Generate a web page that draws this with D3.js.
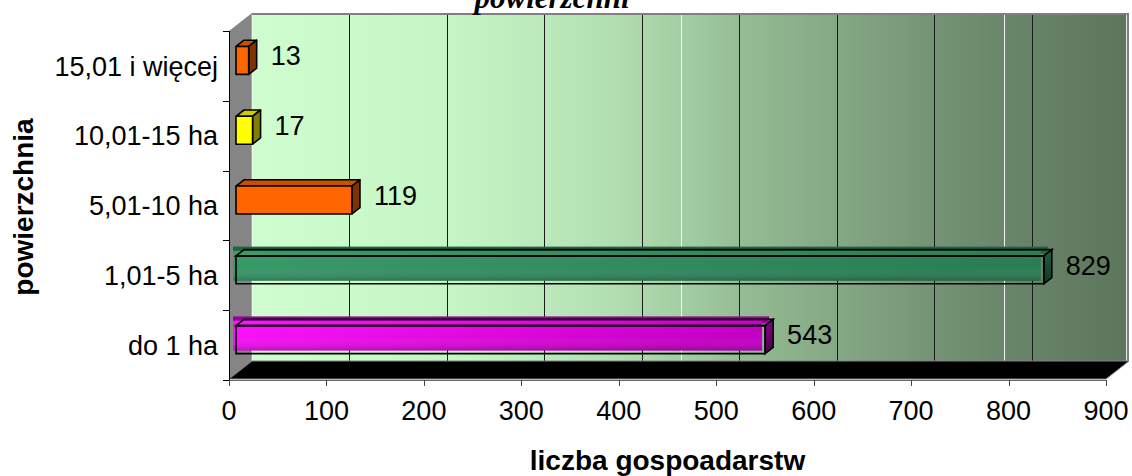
<!DOCTYPE html>
<html>
<head>
<meta charset="utf-8">
<script src="https://cdn.jsdelivr.net/npm/d3@7"></script>
<style>
  html, body { margin: 0; padding: 0; background: #fff; }
  svg { display: block; }
  text { font-family: "Liberation Sans", Arial, sans-serif; fill: #000; }
</style>
</head>
<body>
<svg id="chart" width="1132" height="476"></svg>
<script>
// Liczba gospodarstw według grup obszarowych
const categories = ["do 1 ha", "1,01-5 ha", "5,01-10 ha", "10,01-15 ha", "15,01 i więcej"];
const values = [543, 829, 119, 17, 13];
const xTicks = [0, 100, 200, 300, 400, 500, 600, 700, 800, 900];
const chartTitle = "powierzchni";
const xTitle = "liczba gospoadarstw";
const yTitle = "powierzchnia";

// bar colours: front, top, side (gradient bars use two front stops)
const barStyles = [
  { front: ["#ff14ff", "#c400c4"], top: "#9a009a", side: ["#8a008a", "#4a004a"], grad: true },
  { front: ["#3b9c6b", "#2a7d55"], top: "#1f6544", side: ["#1f5f40", "#0f3a26"], grad: true },
  { front: ["#ff6600"], top: "#c85000", side: ["#7f3300"], grad: false },
  { front: ["#ffff00"], top: "#cccc00", side: ["#808000"], grad: false },
  { front: ["#ff6600"], top: "#c85000", side: ["#7f3300"], grad: false }
];

const svg = d3.select("#chart");
const defs = svg.append("defs");

// 3D geometry: front plane and the depth vector to the back wall
const plotTop = 31, plotBottom = 380;
const DX = 23, DY = -18;
const x = d3.scaleLinear().domain([0, 900]).range([229, 1106]);
const y = d3.scaleBand().domain(categories.slice().reverse()).range([plotTop, plotBottom]).paddingInner(0).paddingOuter(0);
const P = (v, yy, t) => [x(v) + t * DX, yy + t * DY];
const barT0 = 7 / 23, barT1 = 15 / 23;   // bar front / back depth
const barH = y.bandwidth() * 0.4;
const FS = 27;

// back wall gradient
const wallGrad = defs.append("linearGradient").attr("id", "wallGrad")
  .attr("gradientUnits", "userSpaceOnUse")
  .attr("x1", P(0, 0, 1)[0]).attr("x2", P(900, 0, 1)[0]).attr("y1", 0).attr("y2", 0);
const wallStops = [
  [0.00, "#cffdcf"], [0.23, "#c5f5c5"], [0.40, "#b4e1b4"], [0.49, "#a3cea3"],
  [0.56, "#94bc94"], [0.67, "#84a784"], [0.79, "#739173"], [0.86, "#6a866a"], [1.00, "#5c765c"]
];
wallGrad.selectAll("stop").data(wallStops).join("stop")
  .attr("offset", d => d[0]).attr("stop-color", d => d[1]);

const wallL = P(0, plotTop, 1), wallR = P(900, plotBottom, 1);
svg.append("rect")
  .attr("x", wallL[0]).attr("y", wallL[1])
  .attr("width", wallR[0] - wallL[0]).attr("height", wallR[1] - wallL[1])
  .attr("fill", "url(#wallGrad)");

// faint light bands in the wall shading
[440, 772].forEach(v => {
  const px = Math.round(P(v, 0, 1)[0]) + 0.5;
  svg.append("line").attr("x1", px).attr("x2", px).attr("y1", wallL[1] + 2).attr("y2", wallR[1])
    .attr("stroke", "#ffffff").attr("stroke-width", 1).attr("opacity", 0.9);
});

// vertical gridlines on the back wall
svg.append("g").selectAll("line").data(xTicks.filter(d => d > 0 && d < 900)).join("line")
  .attr("x1", d => Math.round(P(d, 0, 1)[0]) + 0.5)
  .attr("x2", d => Math.round(P(d, 0, 1)[0]) + 0.5)
  .attr("y1", wallL[1] + 2).attr("y2", wallR[1])
  .attr("stroke", "#1a1a1a").attr("stroke-width", 1);

// wall border (top and right)
svg.append("path")
  .attr("d", `M${wallL[0]},${wallL[1] + 1}H${wallR[0] - 1}V${wallR[1]}`)
  .attr("fill", "none").attr("stroke", "#808080").attr("stroke-width", 2);
svg.append("line")
  .attr("x1", wallR[0] - 2.5).attr("x2", wallR[0] - 2.5).attr("y1", wallL[1] + 2).attr("y2", wallR[1])
  .attr("stroke", "#e8e8e8").attr("stroke-width", 1);

// left side wall
const side = [P(0, plotTop, 0), P(0, plotTop, 1), P(0, plotBottom, 1), P(0, plotBottom, 0)];
svg.append("polygon").attr("points", side.map(p => p.join(",")).join(" "))
  .attr("fill", "#858585");
svg.append("line")
  .attr("x1", wallL[0] - 0.5).attr("x2", wallL[0] - 0.5).attr("y1", wallL[1]).attr("y2", wallR[1])
  .attr("stroke", "#a8a8a8").attr("stroke-width", 1);
svg.append("line")
  .attr("x1", wallL[0] + 0.5).attr("x2", wallL[0] + 0.5).attr("y1", wallL[1] + 2).attr("y2", wallR[1])
  .attr("stroke", "#e4ffe4").attr("stroke-width", 1);

// floor
const floor = [P(0, plotBottom - 1, 0), P(0, plotBottom - 1, 1), P(900, plotBottom - 1, 1), P(900, plotBottom - 1, 0)];
svg.append("polygon").attr("points", floor.map(p => p.join(",")).join(" "))
  .attr("fill", "#000").attr("stroke", "#808080").attr("stroke-width", 1);

// bars
const barG = svg.append("g");
values.forEach((v, i) => {
  const c = categories[i];
  const st = barStyles[i];
  const yTop = y(c) + (y.bandwidth() - barH) / 2;
  const yBot = yTop + barH;
  const fTL = P(0, yTop, barT0), fTR = P(v, yTop, barT0), fBR = P(v, yBot, barT0), fBL = P(0, yBot, barT0);
  const bTL = P(0, yTop, barT1), bTR = P(v, yTop, barT1), bBR = P(v, yBot, barT1);
  const pts = a => a.map(p => p.join(",")).join(" ");

  let frontFill = st.front[0], sideFill = st.side[0];
  if (st.grad) {
    const gid = "fg" + i;
    const g = defs.append("linearGradient").attr("id", gid).attr("x1", 0).attr("x2", 1).attr("y1", 0).attr("y2", 0.25);
    g.append("stop").attr("offset", 0).attr("stop-color", st.front[0]);
    g.append("stop").attr("offset", 1).attr("stop-color", st.front[1]);
    frontFill = `url(#${gid})`;
    const sid = "sg" + i;
    const s = defs.append("linearGradient").attr("id", sid).attr("x1", 0).attr("x2", 0).attr("y1", 0).attr("y2", 1);
    s.append("stop").attr("offset", 0).attr("stop-color", st.side[0]);
    s.append("stop").attr("offset", 1).attr("stop-color", st.side[1]);
    sideFill = `url(#${sid})`;
    const vid = "vg" + i;
    const vg = defs.append("linearGradient").attr("id", vid).attr("x1", 0).attr("x2", 0).attr("y1", 0).attr("y2", 1);
    vg.append("stop").attr("offset", 0).attr("stop-color", "#fff").attr("stop-opacity", 0.0);
    vg.append("stop").attr("offset", 0.55).attr("stop-color", "#fff").attr("stop-opacity", 0.0);
    vg.append("stop").attr("offset", 1).attr("stop-color", "#000").attr("stop-opacity", 0.18);

    // gradient fills sit slightly up and left of the outlines
    const ox = -3, oy = -3;
    const topH = bTL[1] - fTL[1]; // negative
    barG.append("rect")
      .attr("x", fTL[0] + ox).attr("y", bTL[1] + oy)
      .attr("width", bTR[0] - fTL[0] - 1).attr("height", -topH + 1)
      .attr("fill", st.top);
    barG.append("rect")
      .attr("x", fTL[0] + ox).attr("y", fTL[1] + oy - 2)
      .attr("width", fTR[0] - fTL[0]).attr("height", barH + 2)
      .attr("fill", frontFill);
    barG.append("rect")
      .attr("x", fTL[0] + ox).attr("y", fTL[1] + oy - 2)
      .attr("width", fTR[0] - fTL[0]).attr("height", barH + 2)
      .attr("fill", `url(#${vid})`);
    // outlines
    barG.append("polygon").attr("points", pts([fTL, bTL, bTR, fTR]))
      .attr("fill", "none").attr("stroke", "#000").attr("stroke-width", 1.6);
    barG.append("polygon").attr("points", pts([fTR, bTR, bBR, fBR]))
      .attr("fill", sideFill).attr("stroke", "#000").attr("stroke-width", 1.6);
    barG.append("polygon").attr("points", pts([fTL, fTR, fBR, fBL]))
      .attr("fill", "none").attr("stroke", "#000").attr("stroke-width", 1.6);
  } else {
    barG.append("polygon").attr("points", pts([fTL, bTL, bTR, fTR]))
      .attr("fill", st.top).attr("stroke", "#000").attr("stroke-width", 1.6).attr("stroke-linejoin", "round");
    barG.append("polygon").attr("points", pts([fTR, bTR, bBR, fBR]))
      .attr("fill", sideFill).attr("stroke", "#000").attr("stroke-width", 1.6).attr("stroke-linejoin", "round");
    barG.append("polygon").attr("points", pts([fTL, fTR, fBR, fBL]))
      .attr("fill", frontFill).attr("stroke", "#000").attr("stroke-width", 1.6).attr("stroke-linejoin", "round");
  }

  // value label
  const cy = (fTL[1] + fBL[1]) / 2 - 5;
  svg.append("text")
    .attr("x", fTR[0] + 22).attr("y", cy + 0.36 * FS)
    .attr("font-size", FS)
    .text(v);
});

// y axis
const yAxisG = svg.append("g");
yAxisG.append("line").attr("x1", 229.5).attr("x2", 229.5).attr("y1", plotTop).attr("y2", plotBottom)
  .attr("stroke", "#000").attr("stroke-width", 1);
const bounds = categories.map(c => y(c)).concat([plotBottom]);
yAxisG.selectAll("line.tick").data(bounds).join("line").attr("class", "tick")
  .attr("x1", 223).attr("x2", 229.5)
  .attr("y1", d => Math.round(d) + 0.5).attr("y2", d => Math.round(d) + 0.5)
  .attr("stroke", "#000").attr("stroke-width", 1);
yAxisG.selectAll("text").data(categories).join("text")
  .attr("x", 218).attr("y", d => y(d) + y.bandwidth() / 2 + 0.36 * FS)
  .attr("text-anchor", "end").attr("font-size", FS)
  .text(d => d);

// x axis
const xAxisG = svg.append("g");
xAxisG.append("line").attr("x1", x(0)).attr("x2", x(900)).attr("y1", 380.5).attr("y2", 380.5)
  .attr("stroke", "#666").attr("stroke-width", 1);
xAxisG.selectAll("line.tick").data(xTicks).join("line").attr("class", "tick")
  .attr("x1", d => Math.round(x(d)) + 0.5).attr("x2", d => Math.round(x(d)) + 0.5)
  .attr("y1", 380).attr("y2", 386)
  .attr("stroke", "#444").attr("stroke-width", 1);
xAxisG.selectAll("text").data(xTicks).join("text")
  .attr("x", d => x(d)).attr("y", 420)
  .attr("text-anchor", "middle").attr("font-size", FS)
  .text(d => d);

// axis titles
svg.append("text")
  .attr("x", (x(0) + x(900)) / 2).attr("y", 470)
  .attr("text-anchor", "middle").attr("font-size", 28).attr("font-weight", "bold")
  .text(xTitle);
svg.append("text")
  .attr("transform", "translate(33,207) rotate(-90)")
  .attr("text-anchor", "middle").attr("font-size", 28).attr("font-weight", "bold")
  .text(yTitle);

// chart title (last line, partly above the top edge)
svg.append("text")
  .attr("x", 552).attr("y", 8)
  .attr("text-anchor", "middle")
  .style("font-family", "'Liberation Serif', 'Times New Roman', serif")
  .attr("font-size", 31).attr("font-weight", "bold").attr("font-style", "italic")
  .text(chartTitle);
</script>
</body>
</html>
